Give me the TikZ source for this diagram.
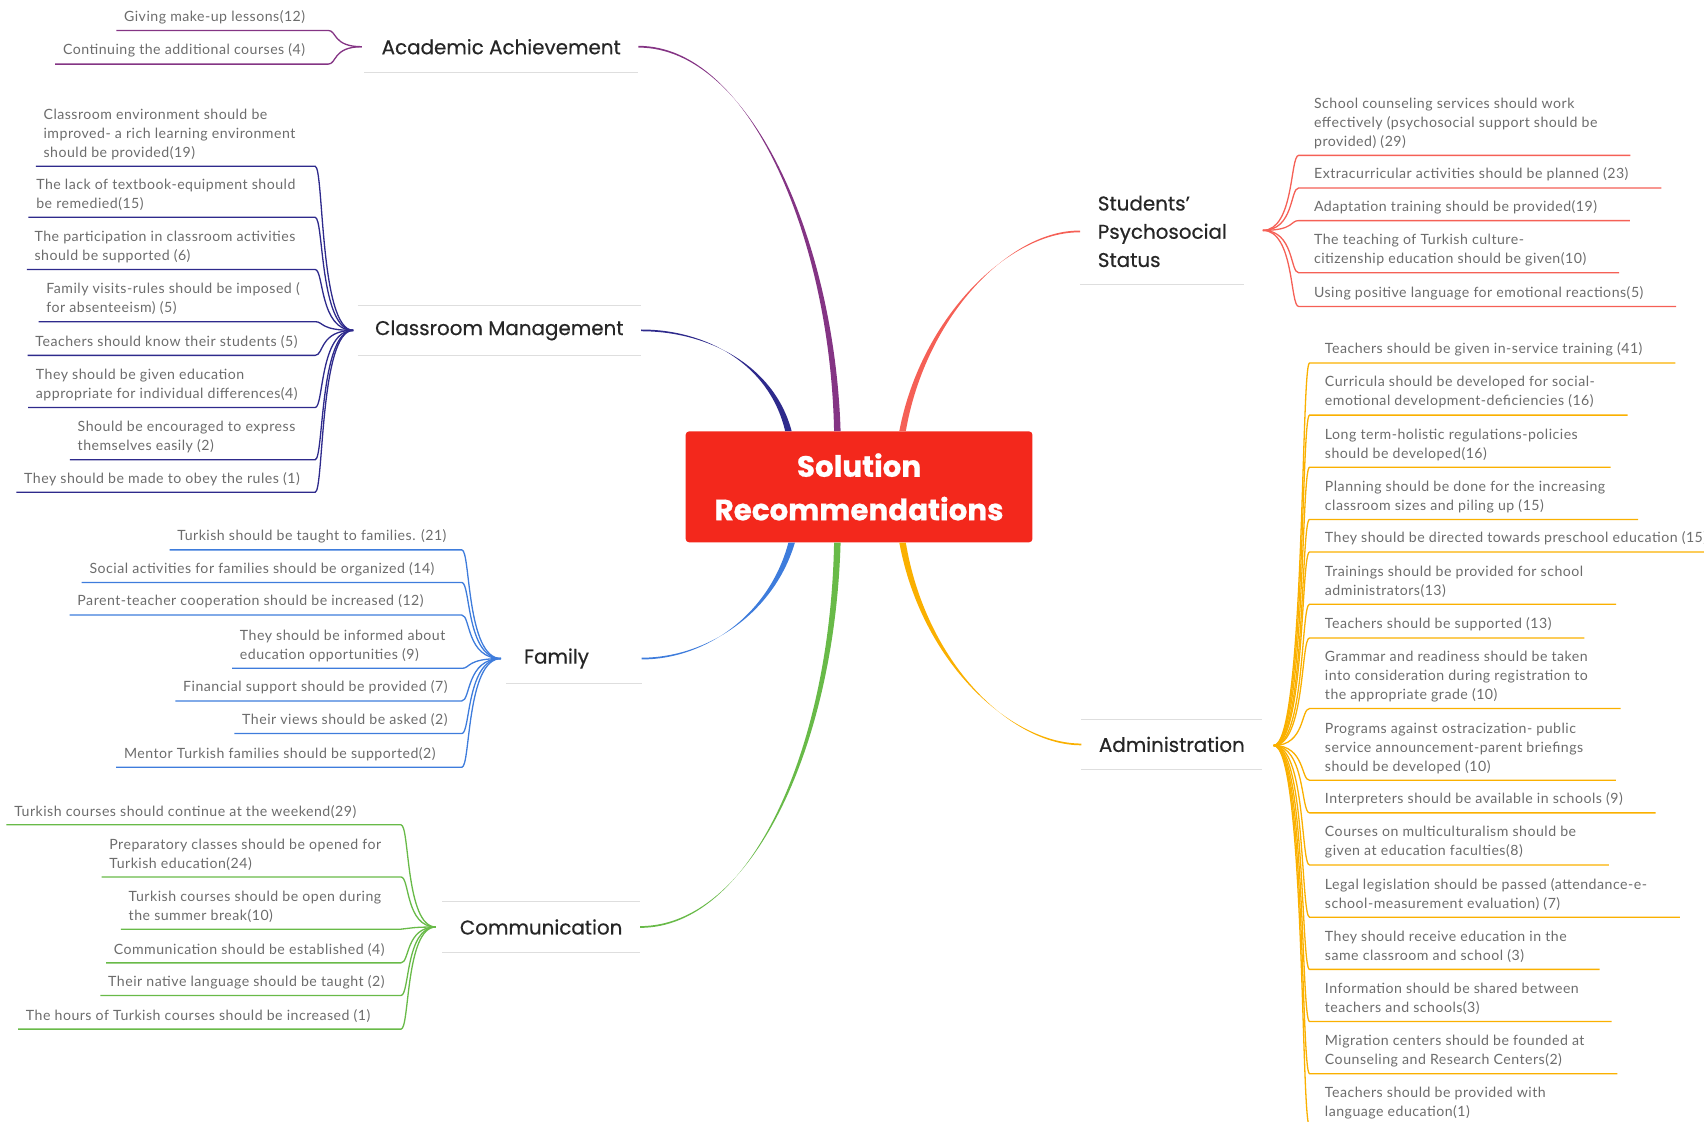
\documentclass[tikz,border=0pt]{standalone}
\usepackage{fontspec}
\setmainfont{Lato}
\newfontfamily\headfont{Poppins}[FakeBold=0.5, BoldFeatures={FakeBold=0.8}]
\newfontfamily\leaffont{Lato}[LetterSpace=3.5]
\usetikzlibrary{positioning}
\definecolor{rootred}{RGB}{243,40,28}
\definecolor{acadcol}{RGB}{132,52,132}
\definecolor{cmcol}{RGB}{46,42,140}
\definecolor{famcol}{RGB}{62,124,220}
\definecolor{comcol}{RGB}{104,186,72}
\definecolor{psycol}{RGB}{245,96,86}
\definecolor{admcol}{RGB}{250,176,0}
\definecolor{leafgray}{RGB}{108,108,108}
\definecolor{bargray}{RGB}{222,222,222}

\begin{document}
\begin{tikzpicture}[x=1pt, y=-1pt,
  rootbox/.style={fill=rootred, rounded corners=3pt, minimum width=319pt, minimum height=102pt, align=center, text=white, font=\headfont\bfseries\fontsize{27}{40}\selectfont},
  branch/.style={inner xsep=16pt, minimum height=46pt, align=left, text=black!85, font=\headfont\fontsize{18.3}{26}\selectfont},
  leafL/.style={anchor=south east, inner xsep=7pt, inner ysep=6pt, align=left, text=leafgray, font=\leaffont\fontsize{13}{17.5}\selectfont},
  leafR/.style={anchor=south west, inner xsep=14pt, inner ysep=6pt, align=left, text=leafgray, font=\leaffont\fontsize{13}{17.5}\selectfont},
  subline/.style={line width=1.2pt},
  graybar/.style={draw=bargray, line width=0.6pt}]
\path[use as bounding box, clip] (0,0) rectangle (1568,1032);

% centre and main branches
\node (root) [rootbox] at (790.5,448) {Solution\\Recommendations};
\node (acad) [branch, anchor=west] at (335,43) {Academic Achievement};
\node (cm) [branch, anchor=west] at (329,304) {Classroom Management};
\node (fam) [branch, anchor=west, text width=92pt] at (466,606) {Family};
\node (com) [branch, anchor=west] at (407,853) {Communication};
\node (psy) [branch, anchor=west, minimum height=96pt] at (994,213) {Students’\\Psychosocial\\Status};
\node (adm) [branch, anchor=west] at (995,685) {Administration};

\draw[graybar] (acad.south west) -- (acad.south east);
\draw[graybar] (cm.north west) -- (cm.north east);
\draw[graybar] (cm.south west) -- (cm.south east);
\draw[graybar] (fam.south west) -- (fam.south east);
\draw[graybar] (com.north west) -- (com.north east);
\draw[graybar] (com.south west) -- (com.south east);
\draw[graybar] (psy.south west) -- (psy.south east);
\draw[graybar] (adm.north west) -- (adm.north east);
\draw[graybar] (adm.south west) -- (adm.south east);

% tapered main links, wide at the centre
\fill[acadcol] ([xshift=-23pt]root.north) .. controls (764,220) and (690,42.2) .. ([yshift=0.8pt]acad.east) -- ([yshift=-0.8pt]acad.east) .. controls (690,43.8) and (768,220) .. ([xshift=-17pt]root.north) -- cycle;
\fill[cmcol] ([xshift=-68pt]root.north) .. controls (708,335) and (650,303.2) .. ([yshift=0.8pt]cm.east) -- ([yshift=-0.8pt]cm.east) .. controls (650,304.8) and (712,335) .. ([xshift=-62pt]root.north) -- cycle;
\fill[famcol] ([xshift=-65pt]root.south) .. controls (708,565) and (650,606.8) .. ([yshift=-0.8pt]fam.east) -- ([yshift=0.8pt]fam.east) .. controls (650,605.2) and (712,565) .. ([xshift=-59pt]root.south) -- cycle;
\fill[comcol] ([xshift=-23pt]root.south) .. controls (764,690) and (690,853.8) .. ([yshift=-0.8pt]com.east) -- ([yshift=0.8pt]com.east) .. controls (690,852.2) and (768,690) .. ([xshift=-17pt]root.south) -- cycle;
\fill[psycol] ([xshift=37pt]root.north) .. controls (848,290) and (930,212.8) .. ([yshift=-0.8pt]psy.west) -- ([yshift=0.8pt]psy.west) .. controls (930,211.2) and (852,290) .. ([xshift=43pt]root.north) -- cycle;
\fill[admcol] ([xshift=37pt]root.south) .. controls (848,610) and (930,684.2) .. ([yshift=0.8pt]adm.west) -- ([yshift=-0.8pt]adm.west) .. controls (930,685.8) and (852,610) .. ([xshift=43pt]root.south) -- cycle;

% hubs and columns where the leaf lines meet
\coordinate (acadhub) at (333,43);
\coordinate (acadend) at (302,0);
\coordinate (cmhub) at (325,304);
\coordinate (cmend) at (290,0);
\coordinate (famhub) at (461,606);
\coordinate (famend) at (425,0);
\coordinate (comhub) at (401,853);
\coordinate (comend) at (369,0);
\coordinate (psyhub) at (1162,212);
\coordinate (admhub) at (1172,686);

% Academic Achievement
\node (acad1) [leafL] at (288,28) {Giving make-up lessons(12)};
\node (acad2) [leafL] at (288,59) {Continuing the additional courses (4)};
\draw[subline, acadcol] (acadhub) .. controls +(-27,0) and +(8,0) .. (acad1.south east -| acadend) -- (acad1.south west);
\draw[subline, acadcol] (acadhub) .. controls +(-27,0) and +(8,0) .. (acad2.south east -| acadend) -- (acad2.south west);

% Classroom Management
\node (cm1) [leafL] at (279,153) {Classroom environment should be\\improved- a rich learning environment\\should be provided(19)};
\node (cm2) [leafL] at (279,200) {The lack of textbook-equipment should\\be remedied(15)};
\node (cm3) [leafL] at (279,248) {The participation in classroom activities\\should be supported (6)};
\node (cm4) [leafL] at (283,296) {Family visits-rules should be imposed (\\for absenteeism) (5)};
\node (cm5) [leafL] at (281,327) {Teachers should know their students (5)};
\node (cm6) [leafL] at (281,375) {They should be given education\\appropriate for individual differences(4)};
\node (cm7) [leafL] at (279,423) {Should be encouraged to express\\themselves easily (2)};
\node (cm8) [leafL] at (283,453) {They should be made to obey the rules (1)};
\draw[subline, cmcol] (cmhub) .. controls +(-31,0) and +(8,0) .. (cm1.south east -| cmend) -- (cm1.south west);
\draw[subline, cmcol] (cmhub) .. controls +(-31,0) and +(8,0) .. (cm2.south east -| cmend) -- (cm2.south west);
\draw[subline, cmcol] (cmhub) .. controls +(-31,0) and +(8,0) .. (cm3.south east -| cmend) -- (cm3.south west);
\draw[subline, cmcol] (cmhub) .. controls +(-31,0) and +(8,0) .. (cm4.south east -| cmend) -- (cm4.south west);
\draw[subline, cmcol] (cmhub) .. controls +(-31,0) and +(8,0) .. (cm5.south east -| cmend) -- (cm5.south west);
\draw[subline, cmcol] (cmhub) .. controls +(-31,0) and +(8,0) .. (cm6.south east -| cmend) -- (cm6.south west);
\draw[subline, cmcol] (cmhub) .. controls +(-31,0) and +(8,0) .. (cm7.south east -| cmend) -- (cm7.south west);
\draw[subline, cmcol] (cmhub) .. controls +(-31,0) and +(8,0) .. (cm8.south east -| cmend) -- (cm8.south west);

% Family
\node (fam1) [leafL] at (418,506) {Turkish should be taught to families. (21)};
\node (fam2) [leafL] at (407,536) {Social activities for families should be organized (14)};
\node (fam3) [leafL] at (397,566) {Parent-teacher cooperation should be increased (12)};
\node (fam4) [leafL] at (417,615) {They should be informed about\\education opportunities (9)};
\node (fam5) [leafL] at (419,645) {Financial support should be provided (7)};
\node (fam6) [leafL] at (419,675) {Their views should be asked (2)};
\node (fam7) [leafL] at (408,706) {Mentor Turkish families should be supported(2)};
\draw[subline, famcol] (famhub) .. controls +(-32,0) and +(8,0) .. (fam1.south east -| famend) -- (fam1.south west);
\draw[subline, famcol] (famhub) .. controls +(-32,0) and +(8,0) .. (fam2.south east -| famend) -- (fam2.south west);
\draw[subline, famcol] (famhub) .. controls +(-32,0) and +(8,0) .. (fam3.south east -| famend) -- (fam3.south west);
\draw[subline, famcol] (famhub) .. controls +(-32,0) and +(8,0) .. (fam4.south east -| famend) -- (fam4.south west);
\draw[subline, famcol] (famhub) .. controls +(-32,0) and +(8,0) .. (fam5.south east -| famend) -- (fam5.south west);
\draw[subline, famcol] (famhub) .. controls +(-32,0) and +(8,0) .. (fam6.south east -| famend) -- (fam6.south west);
\draw[subline, famcol] (famhub) .. controls +(-32,0) and +(8,0) .. (fam7.south east -| famend) -- (fam7.south west);

% Communication
\node (com1) [leafL] at (335,759) {Turkish courses should continue at the weekend(29)};
\node (com2) [leafL] at (358,807) {Preparatory classes should be opened for\\Turkish education(24)};
\node (com3) [leafL] at (358,855) {Turkish courses should be open during\\the summer break(10)};
\node (com4) [leafL] at (361,886) {Communication should be established (4)};
\node (com5) [leafL] at (361,916) {Their native language should be taught (2)};
\node (com6) [leafL] at (348,947) {The hours of Turkish courses should be increased (1)};
\draw[subline, comcol] (comhub) .. controls +(-28,0) and +(8,0) .. (com1.south east -| comend) -- (com1.south west);
\draw[subline, comcol] (comhub) .. controls +(-28,0) and +(8,0) .. (com2.south east -| comend) -- (com2.south west);
\draw[subline, comcol] (comhub) .. controls +(-28,0) and +(8,0) .. (com3.south east -| comend) -- (com3.south west);
\draw[subline, comcol] (comhub) .. controls +(-28,0) and +(8,0) .. (com4.south east -| comend) -- (com4.south west);
\draw[subline, comcol] (comhub) .. controls +(-28,0) and +(8,0) .. (com5.south east -| comend) -- (com5.south west);
\draw[subline, comcol] (comhub) .. controls +(-28,0) and +(8,0) .. (com6.south east -| comend) -- (com6.south west);

% Students' Psychosocial Status
\node (psy1) [leafR] at (1195,143) {School counseling services should work\\effectively (psychosocial support should be\\provided) (29)};
\node (psy2) [leafR] at (1195,173) {Extracurricular activities should be planned (23)};
\node (psy3) [leafR] at (1195,203) {Adaptation training should be provided(19)};
\node (psy4) [leafR] at (1195,251) {The teaching of Turkish culture-\\citizenship education should be given(10)};
\node (psy5) [leafR] at (1195,282) {Using positive language for emotional reactions(5)};
\draw[subline, psycol] (psyhub) .. controls +(29,0) and +(-8,0) .. (psy1.south west) -- ([xshift=16pt]psy1.south east);
\draw[subline, psycol] (psyhub) .. controls +(29,0) and +(-8,0) .. (psy2.south west) -- ([xshift=16pt]psy2.south east);
\draw[subline, psycol] (psyhub) .. controls +(29,0) and +(-8,0) .. (psy3.south west) -- ([xshift=16pt]psy3.south east);
\draw[subline, psycol] (psyhub) .. controls +(29,0) and +(-8,0) .. (psy4.south west) -- ([xshift=16pt]psy4.south east);
\draw[subline, psycol] (psyhub) .. controls +(29,0) and +(-8,0) .. (psy5.south west) -- ([xshift=16pt]psy5.south east);

% Administration
\node (adm1) [leafR] at (1205,334) {Teachers should be given in-service training (41)};
\node (adm2) [leafR] at (1205,382) {Curricula should be developed for social-\\emotional development-deficiencies (16)};
\node (adm3) [leafR] at (1205,430) {Long term-holistic regulations-policies\\should be developed(16)};
\node (adm4) [leafR] at (1205,478) {Planning should be done for the increasing\\classroom sizes and piling up (15)};
\node (adm5) [leafR] at (1205,508) {They should be directed towards preschool education (15)};
\node (adm6) [leafR] at (1205,556) {Trainings should be provided for school\\administrators(13)};
\node (adm7) [leafR] at (1205,587) {Teachers should be supported (13)};
\node (adm8) [leafR] at (1205,652) {Grammar and readiness should be taken\\into consideration during registration to\\the appropriate grade (10)};
\node (adm9) [leafR] at (1205,718) {Programs against ostracization- public\\service announcement-parent briefings\\should be developed (10)};
\node (adm10) [leafR] at (1205,748) {Interpreters should be available in schools (9)};
\node (adm11) [leafR] at (1205,796) {Courses on multiculturalism should be\\given at education faculties(8)};
\node (adm12) [leafR] at (1205,844) {Legal legislation should be passed (attendance-e-\\school-measurement evaluation) (7)};
\node (adm13) [leafR] at (1205,892) {They should receive education in the\\same classroom and school (3)};
\node (adm14) [leafR] at (1205,940) {Information should be shared between\\teachers and schools(3)};
\node (adm15) [leafR] at (1205,988) {Migration centers should be founded at\\Counseling and Research Centers(2)};
\node (adm16) [leafR] at (1205,1036) {Teachers should be provided with\\language education(1)};
\draw[subline, admcol] (admhub) .. controls +(29,0) and +(-8,0) .. (adm1.south west) -- ([xshift=16pt]adm1.south east);
\draw[subline, admcol] (admhub) .. controls +(29,0) and +(-8,0) .. (adm2.south west) -- ([xshift=16pt]adm2.south east);
\draw[subline, admcol] (admhub) .. controls +(29,0) and +(-8,0) .. (adm3.south west) -- ([xshift=16pt]adm3.south east);
\draw[subline, admcol] (admhub) .. controls +(29,0) and +(-8,0) .. (adm4.south west) -- ([xshift=16pt]adm4.south east);
\draw[subline, admcol] (admhub) .. controls +(29,0) and +(-8,0) .. (adm5.south west) -- ([xshift=16pt]adm5.south east);
\draw[subline, admcol] (admhub) .. controls +(29,0) and +(-8,0) .. (adm6.south west) -- ([xshift=16pt]adm6.south east);
\draw[subline, admcol] (admhub) .. controls +(29,0) and +(-8,0) .. (adm7.south west) -- ([xshift=16pt]adm7.south east);
\draw[subline, admcol] (admhub) .. controls +(29,0) and +(-8,0) .. (adm8.south west) -- ([xshift=16pt]adm8.south east);
\draw[subline, admcol] (admhub) .. controls +(29,0) and +(-8,0) .. (adm9.south west) -- ([xshift=16pt]adm9.south east);
\draw[subline, admcol] (admhub) .. controls +(29,0) and +(-8,0) .. (adm10.south west) -- ([xshift=16pt]adm10.south east);
\draw[subline, admcol] (admhub) .. controls +(29,0) and +(-8,0) .. (adm11.south west) -- ([xshift=16pt]adm11.south east);
\draw[subline, admcol] (admhub) .. controls +(29,0) and +(-8,0) .. (adm12.south west) -- ([xshift=16pt]adm12.south east);
\draw[subline, admcol] (admhub) .. controls +(29,0) and +(-8,0) .. (adm13.south west) -- ([xshift=16pt]adm13.south east);
\draw[subline, admcol] (admhub) .. controls +(29,0) and +(-8,0) .. (adm14.south west) -- ([xshift=16pt]adm14.south east);
\draw[subline, admcol] (admhub) .. controls +(29,0) and +(-8,0) .. (adm15.south west) -- ([xshift=16pt]adm15.south east);
\draw[subline, admcol] (admhub) .. controls +(29,0) and +(-8,0) .. (adm16.south west) -- ([xshift=16pt]adm16.south east);
\end{tikzpicture}
\end{document}
